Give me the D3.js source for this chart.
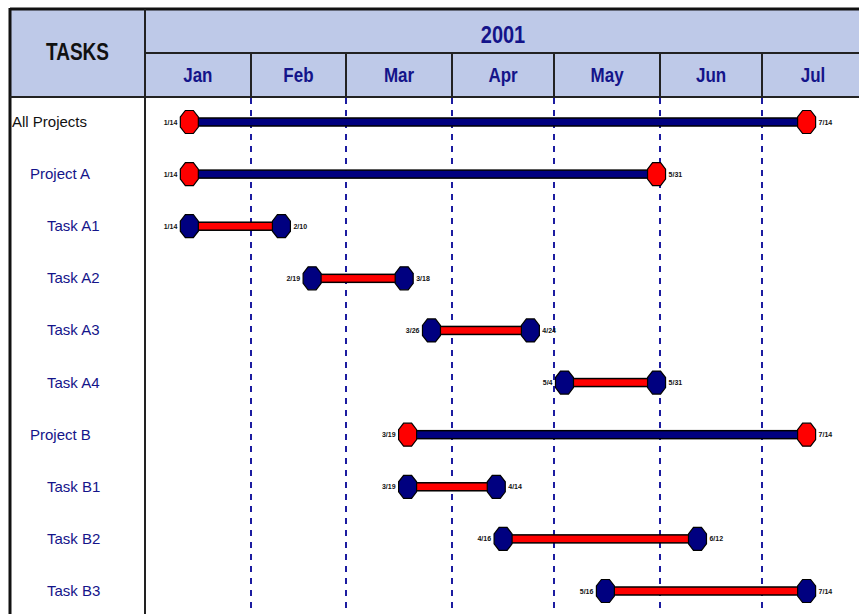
<!DOCTYPE html>
<html>
<head>
<meta charset="utf-8">
<script src="https://cdn.jsdelivr.net/npm/d3@7"></script>
<style>
  body { margin: 0; background: #fff; }
  svg { display: block; }
  text { font-family: "Liberation Sans", Arial, sans-serif; }
  .month, .year { fill: #14148a; font-weight: bold; }
  .tasks-head { fill: #111; font-weight: bold; }
  .row-label { font-size: 15px; }
  .date-lbl { font-size: 7px; font-weight: bold; fill: #111; }
</style>
</head>
<body>
<div id="gantt"></div>
<script>
var YEAR = "2001";
var MONTHS = ["Jan", "Feb", "Mar", "Apr", "May", "Jun", "Jul"];
var TASK_NAMES = ["All Projects", "Project A", "Task A1", "Task A2", "Task A3", "Task A4",
                  "Project B", "Task B1", "Task B2", "Task B3"];
var TASK_LEVELS = [0, 1, 2, 2, 2, 2, 1, 2, 2, 2];
var TASK_TYPES = ["project", "project", "task", "task", "task", "task", "project", "task", "task", "task"];
var START_DATES = ["2001-01-14", "2001-01-14", "2001-01-14", "2001-02-19", "2001-03-26", "2001-05-04",
                   "2001-03-19", "2001-03-19", "2001-04-16", "2001-05-16"];
var END_DATES = ["2001-07-14", "2001-05-31", "2001-02-10", "2001-03-18", "2001-04-24", "2001-05-31",
                 "2001-07-14", "2001-04-14", "2001-06-12", "2001-07-14"];

var W = 859, H = 614;
var leftX = 10, topY = 9, divX = 145, yearBottom = 53, headBottom = 97;
var NAVY = "#000080", RED = "#ff0000", HEAD_FILL = "#bec9e8";

var parse = d3.utcParse("%Y-%m-%d");
var fmt = function(d) { return (d.getUTCMonth() + 1) + "/" + d.getUTCDate(); };

var rows = TASK_NAMES.map(function(n, i) {
  return { name: n, level: TASK_LEVELS[i], type: TASK_TYPES[i],
           start: parse(START_DATES[i]), end: parse(END_DATES[i]) };
});

// time axis: Jan 1 to Aug 1, the Jul column runs past the right edge
var x = d3.scaleUtc()
  .domain([new Date(Date.UTC(2001, 0, 1)), new Date(Date.UTC(2001, 7, 1))])
  .range([divX, 868]);
var y = d3.scalePoint().domain(TASK_NAMES).range([122, 591]);

var monthStarts = d3.utcMonth.range(new Date(Date.UTC(2001, 0, 1)), new Date(Date.UTC(2001, 7, 1)));

var svg = d3.select("#gantt").append("svg")
  .attr("width", W)
  .attr("height", H);

// header band
svg.append("rect")
  .attr("x", leftX).attr("y", topY)
  .attr("width", W - leftX + 5).attr("height", headBottom - topY)
  .attr("fill", HEAD_FILL);

// dashed month gridlines in the body
svg.selectAll(".grid")
  .data(monthStarts.slice(1))
  .enter().append("line")
  .attr("class", "grid")
  .attr("x1", function(d) { return Math.round(x(d)); })
  .attr("x2", function(d) { return Math.round(x(d)); })
  .attr("y1", headBottom + 1).attr("y2", H)
  .attr("stroke", "#1c1ca0")
  .attr("stroke-width", 2)
  .attr("stroke-dasharray", "6,6");

// header lines
var lineCol = "#222";
svg.append("line").attr("x1", leftX).attr("x2", W).attr("y1", topY).attr("y2", topY)
  .attr("stroke", "#111").attr("stroke-width", 3);
svg.append("line").attr("x1", leftX).attr("x2", leftX).attr("y1", topY - 1).attr("y2", H)
  .attr("stroke", "#111").attr("stroke-width", 3);
svg.append("line").attr("x1", divX).attr("x2", divX).attr("y1", topY).attr("y2", H)
  .attr("stroke", lineCol).attr("stroke-width", 2);
svg.append("line").attr("x1", divX).attr("x2", W).attr("y1", yearBottom).attr("y2", yearBottom)
  .attr("stroke", lineCol).attr("stroke-width", 2);
svg.append("line").attr("x1", leftX).attr("x2", W).attr("y1", headBottom).attr("y2", headBottom)
  .attr("stroke", lineCol).attr("stroke-width", 2);
svg.selectAll(".mdiv")
  .data(monthStarts.slice(1))
  .enter().append("line")
  .attr("class", "mdiv")
  .attr("x1", function(d) { return Math.round(x(d)); })
  .attr("x2", function(d) { return Math.round(x(d)); })
  .attr("y1", yearBottom).attr("y2", headBottom)
  .attr("stroke", lineCol).attr("stroke-width", 2);

// header texts
svg.append("text")
  .attr("class", "tasks-head")
  .attr("text-anchor", "middle")
  .attr("font-size", 19)
  .attr("transform", "translate(" + ((leftX + divX) / 2) + ",60) scale(1,1.25)")
  .text("TASKS");

svg.append("text")
  .attr("class", "year")
  .attr("text-anchor", "middle")
  .attr("font-size", 20)
  .attr("transform", "translate(503,43) scale(1,1.2)")
  .text(YEAR);

svg.selectAll(".month")
  .data(MONTHS)
  .enter().append("text")
  .attr("class", "month")
  .attr("text-anchor", "middle")
  .attr("font-size", 17)
  .attr("transform", function(d, i) {
    var a = monthStarts[i], b = d3.utcMonth.offset(a, 1);
    var cx = (x(a) + x(b)) / 2;
    if (cx > 800) cx = 813;
    return "translate(" + cx + ",82) scale(1,1.15)";
  })
  .text(function(d) { return d; });

// row labels
svg.selectAll(".row-label")
  .data(rows)
  .enter().append("text")
  .attr("class", "row-label")
  .attr("x", function(d) { return [12, 30, 47][d.level]; })
  .attr("y", function(d) { return y(d.name) + 5; })
  .attr("fill", function(d) { return d.level == 0 ? "#111" : "#14148a"; })
  .text(function(d) { return d.name; });

// bars
var bar = svg.selectAll(".bar")
  .data(rows)
  .enter().append("g")
  .attr("class", "bar");

bar.append("rect")
  .attr("x", function(d) { return x(d.start); })
  .attr("y", function(d) { return y(d.name) - 4; })
  .attr("width", function(d) { return x(d.end) - x(d.start); })
  .attr("height", 8)
  .attr("fill", function(d) { return d.type == "project" ? NAVY : RED; })
  .attr("stroke", "#000")
  .attr("stroke-width", 1.5);

// octagon end markers
var oct = [[-4, -11.5], [4, -11.5], [9, -5], [9, 5], [4, 11.5], [-4, 11.5], [-9, 5], [-9, -5]];
var octPath = d3.line()(oct) + "Z";

var ends = [];
rows.forEach(function(d) {
  ends.push({ row: d, date: d.start, side: "start" });
  ends.push({ row: d, date: d.end, side: "end" });
});

svg.selectAll(".marker")
  .data(ends)
  .enter().append("path")
  .attr("class", "marker")
  .attr("d", octPath)
  .attr("transform", function(d) { return "translate(" + x(d.date) + "," + y(d.row.name) + ")"; })
  .attr("fill", function(d) { return d.row.type == "project" ? RED : NAVY; })
  .attr("stroke", "#000")
  .attr("stroke-width", 1.2);

svg.selectAll(".date-lbl")
  .data(ends)
  .enter().append("text")
  .attr("class", "date-lbl")
  .attr("x", function(d) { return x(d.date) + (d.side == "start" ? -12 : 12); })
  .attr("y", function(d) { return y(d.row.name) + 2.5; })
  .attr("text-anchor", function(d) { return d.side == "start" ? "end" : "start"; })
  .text(function(d) { return fmt(d.date); });
</script>
</body>
</html>
